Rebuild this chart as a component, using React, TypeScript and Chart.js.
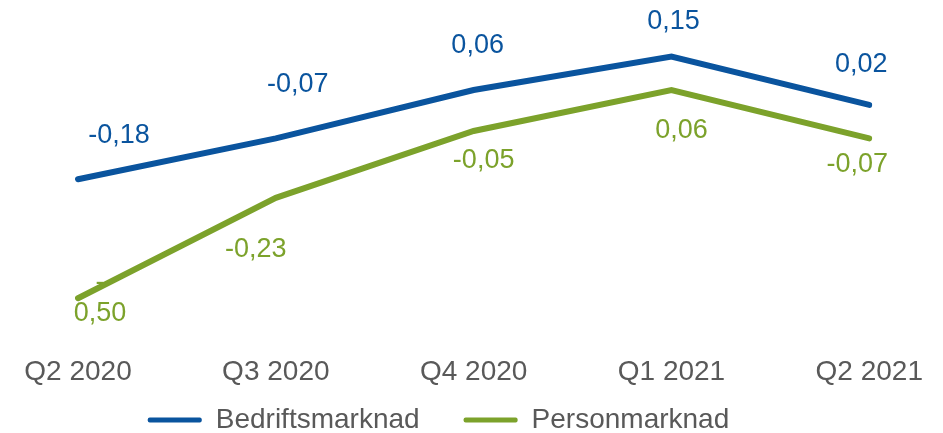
import React, { useEffect, useRef } from "react";
import { Chart, registerables } from "chart.js";

Chart.register(...registerables);

const quarters = ["Q2 2020", "Q3 2020", "Q4 2020", "Q1 2021", "Q2 2021"];
const bedriftsmarknad = [-0.18, -0.07, 0.06, 0.15, 0.02];
const personmarknad = [-0.5, -0.23, -0.05, 0.06, -0.07];

const seriesNames = ["Bedriftsmarknad", "Personmarknad"];

// label nudges (pixels) relative to each point, as placed in the original
const bedriftLabelDx = [41, 22, 4, 2, -8];
const bedriftLabelDy = [-44, -54, -44, -35, -40];
const personLabelDx = [22, -20, 10, 10, -12];
const personLabelDy = [0, 52, 30, 41, 26];
const personWrapIndex = 0;

const BLUE = "#0A549E";
const GREEN = "#7CA22B";
const GREY = "#595959";
const FONT = "'Liberation Sans', Arial, sans-serif";

const fmt = (v: number) => v.toFixed(2).replace(".", ",");

const labelPlugin = {
  id: "valueLabels",
  beforeDatasetsDraw(chart: any) {
    const ctx = chart.ctx;
    ctx.save();
    ctx.font = `27px ${FONT}`;
    ctx.textAlign = "center";
    ctx.textBaseline = "middle";
    const cfg = [
      { dx: bedriftLabelDx, dy: bedriftLabelDy, color: BLUE, wrap: -1 },
      { dx: personLabelDx, dy: personLabelDy, color: GREEN, wrap: personWrapIndex },
    ];
    chart.data.datasets.forEach((ds: any, di: number) => {
      const meta = chart.getDatasetMeta(di);
      const c = cfg[di];
      ctx.fillStyle = c.color;
      meta.data.forEach((pt: any, i: number) => {
        const text = fmt(ds.data[i]);
        const x = pt.x + c.dx[i];
        const y = pt.y + c.dy[i];
        if (i === c.wrap && text.startsWith("-")) {
          ctx.fillText("-", x, y - 15.5);
          ctx.fillText(text.slice(1), x, y + 15.5);
        } else {
          ctx.fillText(text, x, y);
        }
      });
    });
    ctx.restore();
  },
};

const legendShiftPlugin = {
  id: "legendShift",
  afterLayout(chart: any) {
    const lg = chart.legend;
    if (!lg) return;
    const pad = lg.options.labels.padding;
    const top = chart.height - 13 - 14 - pad;
    lg.top = top;
    lg.height = chart.height - top;
    lg.bottom = chart.height;
    lg.left -= 38;
    lg.right -= 38;
  },
};

export default function App() {
  const ref = useRef<HTMLCanvasElement>(null);

  useEffect(() => {
    if (!ref.current) return;
    const chart = new Chart(ref.current, {
      type: "line",
      data: {
        labels: quarters,
        datasets: [
          {
            label: seriesNames[0],
            data: bedriftsmarknad,
            borderColor: BLUE,
            backgroundColor: BLUE,
            borderWidth: 6,
            borderCapStyle: "round",
            borderJoinStyle: "miter",
            pointRadius: 0,
            pointHoverRadius: 0,
            tension: 0,
          },
          {
            label: seriesNames[1],
            data: personmarknad,
            borderColor: GREEN,
            backgroundColor: GREEN,
            borderWidth: 6,
            borderCapStyle: "round",
            borderJoinStyle: "miter",
            pointRadius: 0,
            pointHoverRadius: 0,
            tension: 0,
          },
        ],
      },
      options: {
        responsive: false,
        animation: false,
        events: [],
        layout: { padding: { left: 78, right: 68, top: 38, bottom: 4 } },
        scales: {
          x: {
            offset: false,
            grid: { display: false, drawTicks: false },
            border: { display: false },
            ticks: {
              color: GREY,
              font: { family: FONT, size: 28 },
              padding: 20,
              maxRotation: 0,
              autoSkip: false,
            },
          },
          y: {
            display: false,
            min: -0.6,
            max: 0.2,
          },
        },
        plugins: {
          tooltip: { enabled: false },
          legend: {
            position: "bottom",
            maxHeight: 20,
            labels: {
              color: GREY,
              font: { family: FONT, size: 28 },
              boxWidth: 54,
              boxHeight: 5,
              padding: 44,
              generateLabels: (ch: any) =>
                ch.data.datasets.map((ds: any, i: number) => ({
                  text: ds.label,
                  fillStyle: ds.borderColor,
                  strokeStyle: ds.borderColor,
                  lineWidth: 0,
                  borderRadius: 2,
                  fontColor: GREY,
                  hidden: false,
                  datasetIndex: i,
                })),
            },
          },
        },
      },
      plugins: [labelPlugin, legendShiftPlugin],
    } as any);
    return () => chart.destroy();
  }, []);

  return (
    <div style={{ position: "fixed", left: 0, top: 0, width: 943, height: 433, background: "#fff" }}>
      <canvas ref={ref} width={943} height={433} style={{ display: "block" }} />
    </div>
  );
}
